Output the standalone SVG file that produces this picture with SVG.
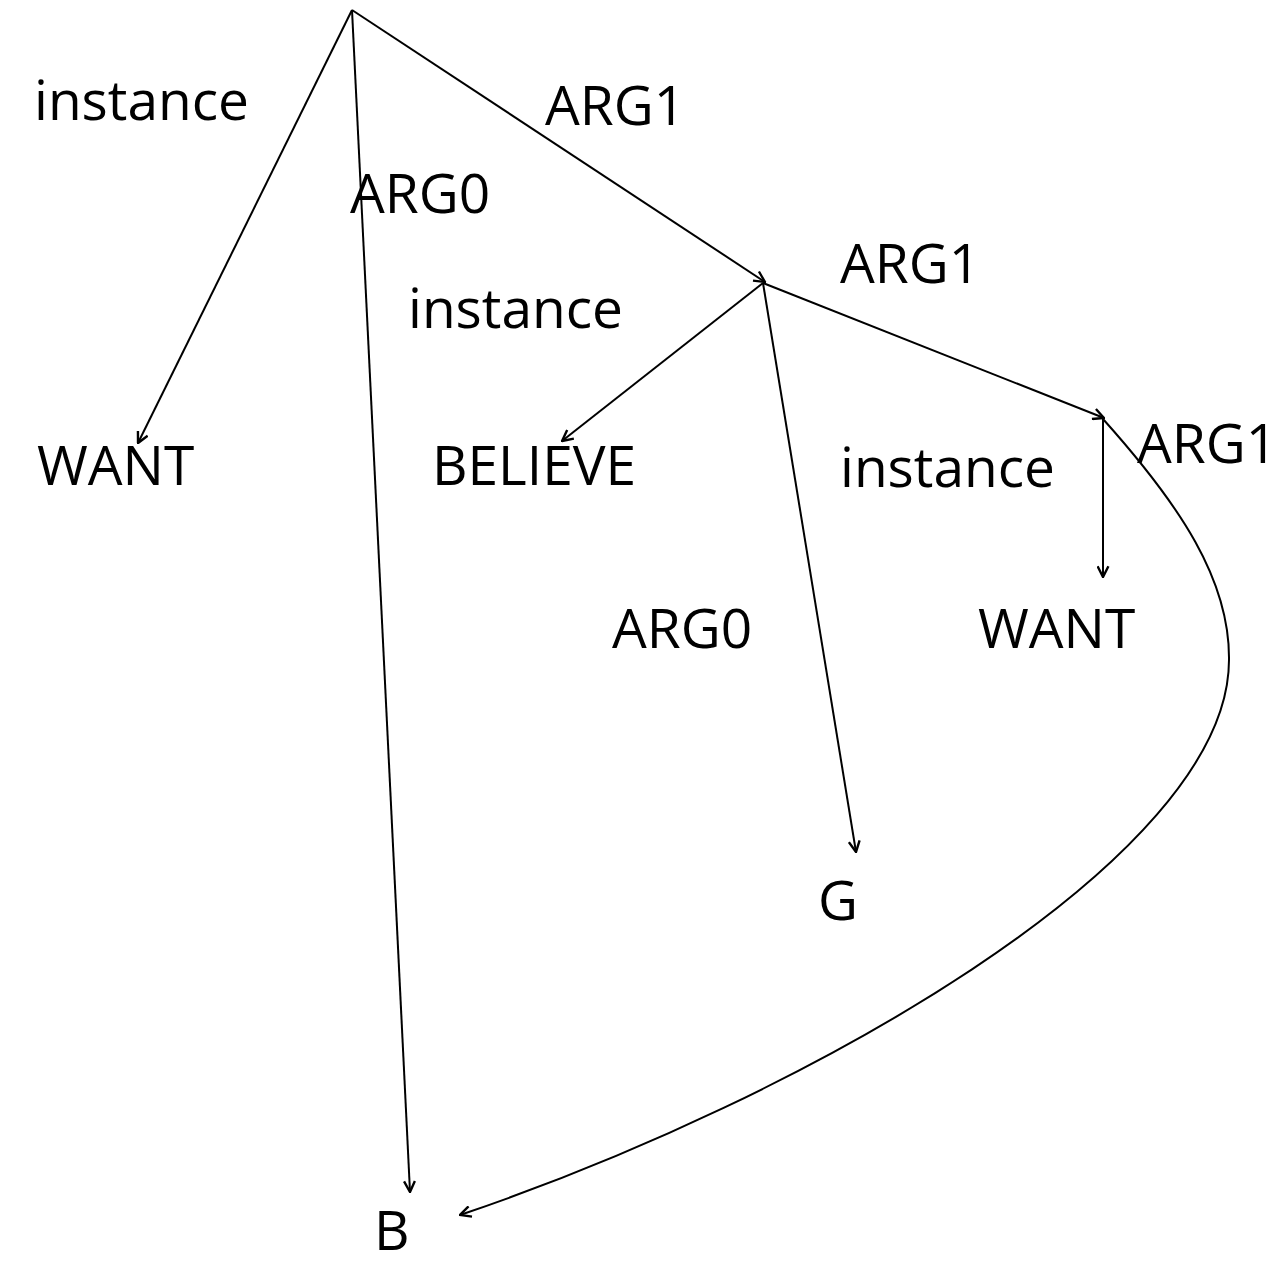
<svg xmlns="http://www.w3.org/2000/svg" width="1284" height="1266" viewBox="0 0 1284 1266">
<defs>
<marker id="arr" viewBox="0 0 12 12" refX="11" refY="6" markerWidth="13" markerHeight="13" markerUnits="userSpaceOnUse" orient="auto">
<path d="M1,1 L11,6 L1,11" fill="none" stroke="#000" stroke-width="2.2"/>
</marker>
<style>
.t{font-family:"Open Sans","Liberation Sans",sans-serif;font-size:55px;fill:#000}
.c{stroke:#000;stroke-width:2;fill:none;marker-end:url(#arr)}
</style>
</defs>
<rect width="1284" height="1266" fill="#fff"/>
<g id="connectors">
<line class="c" x1="352" y1="10" x2="138" y2="443"/>
<line class="c" x1="352" y1="10" x2="410" y2="1192"/>
<line class="c" x1="352" y1="10" x2="765" y2="282"/>
<line class="c" x1="763" y1="283" x2="562" y2="441"/>
<line class="c" x1="763" y1="283" x2="856" y2="852"/>
<line class="c" x1="763" y1="283" x2="1104" y2="418"/>
<line class="c" x1="1103" y1="419" x2="1103" y2="577"/>
<path class="c" d="M1103,419 C1180,505 1230,580 1229,660 C1229,860 800,1100 460,1215"/>
</g>
<g id="labels">
<text class="t" x="34" y="120">instance</text>
<text class="t" x="545" y="125">ARG1</text>
<text class="t" x="350" y="213">ARG0</text>
<text class="t" x="840" y="283">ARG1</text>
<text class="t" x="408" y="328">instance</text>
<text class="t" x="840" y="487">instance</text>
<text class="t" x="1137" y="463">ARG1</text>
<text class="t" x="612" y="648">ARG0</text>
</g>
<g id="node-want1"><text class="t" x="37" y="485">WANT</text></g>
<g id="node-believe"><text class="t" x="432" y="485">BELIEVE</text></g>
<g id="node-want2"><text class="t" x="978" y="648">WANT</text></g>
<g id="node-g"><text class="t" x="818" y="920">G</text></g>
<g id="node-b"><text class="t" x="374" y="1250">B</text></g>
</svg>
